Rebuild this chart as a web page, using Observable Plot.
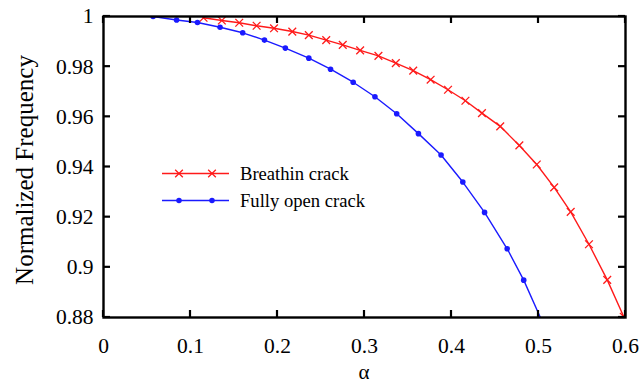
<!DOCTYPE html>
<html>
<head>
<meta charset="utf-8">
<script src="https://cdn.jsdelivr.net/npm/d3@7"></script>
<script src="https://cdn.jsdelivr.net/npm/@observablehq/plot@0.6"></script>
<style>
  html, body { margin: 0; padding: 0; background: white; }
  #chart { position: relative; width: 642px; height: 383px; font-family: "Liberation Serif", serif; }
  #chart svg text { font-family: "Liberation Serif", "DejaVu Serif", serif !important; }
</style>
</head>
<body>
<div id="chart"></div>
<script>
// Breathing crack (red, crosses)
const alphaBreath = [0.115, 0.136, 0.156, 0.176, 0.196, 0.217, 0.236, 0.256, 0.275, 0.295, 0.316, 0.336, 0.356, 0.376, 0.396, 0.416, 0.435, 0.456, 0.478, 0.498, 0.518, 0.537, 0.558, 0.579, 0.598];
const freqBreath  = [0.9995, 0.9984, 0.9975, 0.9963, 0.9953, 0.9940, 0.9926, 0.9906, 0.9887, 0.9865, 0.9843, 0.9814, 0.9784, 0.9748, 0.9708, 0.9664, 0.9615, 0.9562, 0.9486, 0.9410, 0.9319, 0.9221, 0.9092, 0.8950, 0.8803];
// Fully open crack (blue, dots)
const alphaOpen = [0.057, 0.084, 0.108, 0.134, 0.160, 0.185, 0.209, 0.236, 0.261, 0.287, 0.312, 0.337, 0.362, 0.388, 0.413, 0.438, 0.464, 0.483, 0.506];
const freqOpen  = [1.0000, 0.9986, 0.9976, 0.9957, 0.9935, 0.9906, 0.9874, 0.9834, 0.9790, 0.9738, 0.9680, 0.9612, 0.9533, 0.9448, 0.9340, 0.9219, 0.9074, 0.8949, 0.8770];

const xTicks = [0, 0.1, 0.2, 0.3, 0.4, 0.5, 0.6];
const yTicks = [0.88, 0.9, 0.92, 0.94, 0.96, 0.98, 1];
const seriesNames = ["Breathin crack", "Fully open crack"];
const xTitle = "α";
const yTitle = "Normalized Frequency";

const breath = alphaBreath.map((a, i) => ({a, f: freqBreath[i]}));
const open = alphaOpen.map((a, i) => ({a, f: freqOpen[i]}));
const fmt = d => String(+d.toFixed(2));

const RED = "#ff1a1a", BLUE = "#1a1aff";
const W = 642, H = 383, ML = 103, MR = 17, MT = 16, MB = 66, TL = 7;
const xDom = [0, 0.6], yDom = [0.88, 1];
const FONT = "Liberation Serif";

const plot = Plot.plot({
  width: W,
  height: H,
  marginLeft: ML,
  marginRight: MR,
  marginTop: MT,
  marginBottom: MB,
  style: {fontFamily: FONT, fontSize: "21.5px", background: "white", color: "black"},
  x: {domain: xDom},
  y: {domain: yDom},
  marks: [
    Plot.line(breath, {x: "a", y: "f", stroke: RED, strokeWidth: 1.4, clip: true}),
    Plot.dot(breath, {x: "a", y: "f", symbol: "times", r: 3.6, stroke: RED, strokeWidth: 1.3, clip: true}),
    Plot.line(open, {x: "a", y: "f", stroke: BLUE, strokeWidth: 1.4, clip: true}),
    Plot.dot(open, {x: "a", y: "f", r: 2.8, fill: BLUE, stroke: null, clip: true}),
    Plot.axisX({anchor: "bottom", ticks: xTicks, tickSize: 0, tickPadding: 20, tickFormat: fmt, fontSize: 21.5, label: null}),
    Plot.axisY({anchor: "left", ticks: yTicks, tickSize: 0, tickPadding: 10, tickFormat: fmt, fontSize: 21.5, label: null}),
    Plot.frame({stroke: "black", strokeWidth: 2.4})
  ]
});

const chart = document.getElementById("chart");
chart.appendChild(plot);

const svg = d3.select(plot);
svg.selectAll("text").attr("font-family", FONT).style("font-family", FONT);

// inward ticks on all four sides, placed with the plot's own scales
const sx = plot.scale("x"), sy = plot.scale("y");
const x0 = sx.apply(xDom[0]), x1 = sx.apply(xDom[1]);
const y0 = sy.apply(yDom[0]), y1 = sy.apply(yDom[1]);
const tg = svg.append("g").attr("stroke", "black").attr("stroke-width", 2.2);
xTicks.forEach(t => {
  const px = sx.apply(t);
  tg.append("line").attr("x1", px).attr("x2", px).attr("y1", y0).attr("y2", y0 - TL);
  tg.append("line").attr("x1", px).attr("x2", px).attr("y1", y1).attr("y2", y1 + TL);
});
yTicks.forEach(t => {
  const py = sy.apply(t);
  tg.append("line").attr("x1", x0).attr("x2", x0 + TL).attr("y1", py).attr("y2", py);
  tg.append("line").attr("x1", x1).attr("x2", x1 - TL).attr("y1", py).attr("y2", py);
});

svg.append("text")
  .attr("x", (x0 + x1) / 2).attr("y", 379)
  .attr("text-anchor", "middle")
  .attr("font-family", FONT)
  .attr("font-size", 21)
  .attr("fill", "black")
  .text(xTitle);
svg.append("text")
  .attr("transform", "translate(33,170) rotate(-90)")
  .attr("text-anchor", "middle")
  .attr("font-family", FONT)
  .attr("font-size", 25)
  .attr("fill", "black")
  .text(yTitle);

const leg = svg.append("g");
const rows = [
  {name: seriesNames[0], color: RED, sym: d3.symbolTimes, y: 173.5},
  {name: seriesNames[1], color: BLUE, sym: d3.symbolCircle, y: 200.5}
];
rows.forEach(r => {
  leg.append("line").attr("x1", 162).attr("x2", 229).attr("y1", r.y).attr("y2", r.y)
    .attr("stroke", r.color).attr("stroke-width", 1.4);
  [179, 212].forEach(cx => {
    const p = leg.append("path")
      .attr("transform", `translate(${cx},${r.y})`)
      .attr("d", d3.symbol(r.sym, r.sym === d3.symbolCircle ? 24 : 40)());
    if (r.sym === d3.symbolCircle) p.attr("fill", r.color);
    else p.attr("fill", "none").attr("stroke", r.color).attr("stroke-width", 1.3);
  });
  leg.append("text").attr("x", 240).attr("y", r.y).attr("dy", "0.35em")
    .attr("text-anchor", "start")
    .attr("font-family", FONT)
    .attr("font-size", 18.6).attr("fill", "black").text(r.name);
});
</script>
</body>
</html>
